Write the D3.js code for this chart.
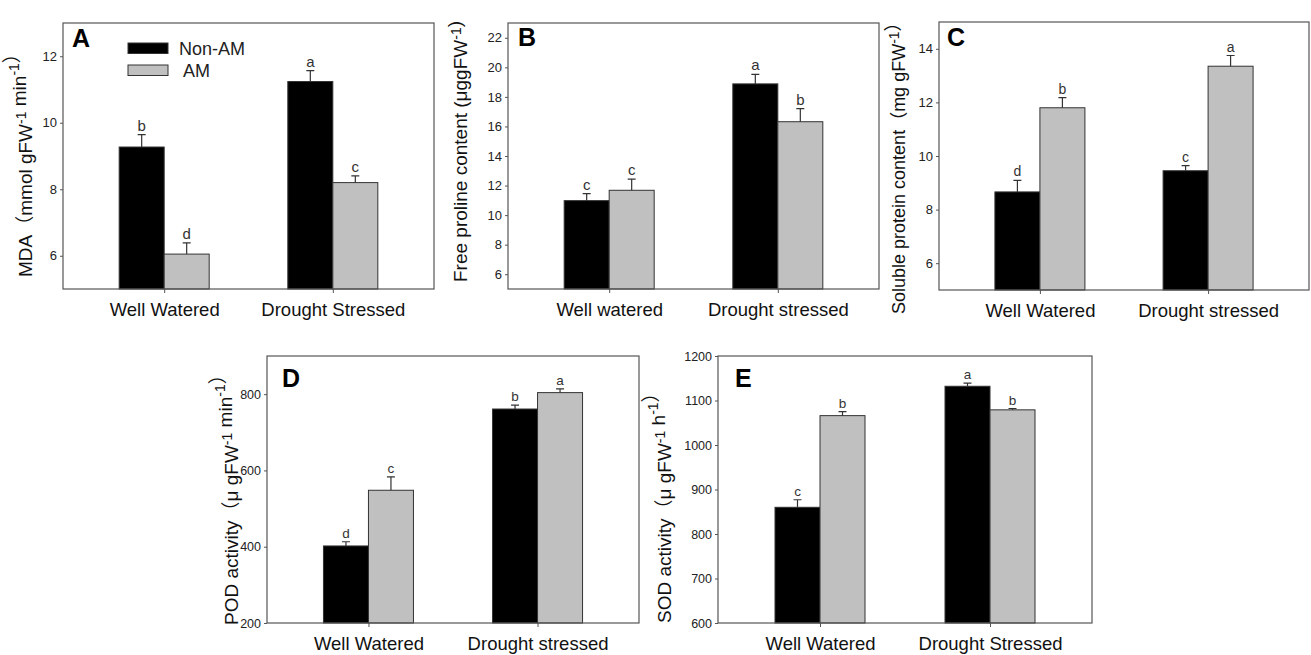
<!DOCTYPE html>
<html lang="en">
<head>
<meta charset="UTF-8">
<title>AM vs Non-AM under drought</title>
<script src="https://d3js.org/d3.v7.min.js"></script>
<style>
    body { margin: 0; background: #fff; }
    svg text { font-family: Arial, "Liberation Sans", "Noto Sans CJK SC", sans-serif; }
    .frame { fill: none; stroke: #555; stroke-width: 1.2px; }
    .tick line { stroke: #555; }
    .ytick text { fill: #222; }
    .xtick text { fill: #111; font-size: 18.5px; }
    .ylab { fill: #111; }
    .plabel { font-weight: bold; font-size: 25px; fill: #000; }
    .sig { fill: #333; }
</style>
</head>
<body>
<div id="chart"></div>
<script>
    // series
    var series = ["Non-AM", "AM"];
    var seriesColor = ["#000000", "#c0c0c0"];

    // A - MDA
    var mdaGroups = ["Well Watered", "Drought Stressed"];
    var mdaNonAM = [9.27, 11.24];
    var mdaAM = [6.05, 8.2];
    var mdaErrNonAM = [0.37, 0.33];
    var mdaErrAM = [0.34, 0.2];
    var mdaSigNonAM = ["b", "a"];
    var mdaSigAM = ["d", "c"];
    var mdaTicks = [6, 8, 10, 12];

    // B - free proline
    var proGroups = ["Well watered", "Drought stressed"];
    var proNonAM = [10.98, 18.88];
    var proAM = [11.68, 16.32];
    var proErrNonAM = [0.47, 0.65];
    var proErrAM = [0.75, 0.88];
    var proSigNonAM = ["c", "a"];
    var proSigAM = ["c", "b"];
    var proTicks = [6, 8, 10, 12, 14, 16, 18, 20, 22];

    // C - soluble protein
    var solGroups = ["Well Watered", "Drought stressed"];
    var solNonAM = [8.66, 9.45];
    var solAM = [11.8, 13.35];
    var solErrNonAM = [0.43, 0.19];
    var solErrAM = [0.38, 0.4];
    var solSigNonAM = ["d", "c"];
    var solSigAM = ["b", "a"];
    var solTicks = [6, 8, 10, 12, 14];

    // D - POD
    var podGroups = ["Well Watered", "Drought stressed"];
    var podNonAM = [402, 761];
    var podAM = [548, 804];
    var podErrNonAM = [11, 10];
    var podErrAM = [35, 10];
    var podSigNonAM = ["d", "b"];
    var podSigAM = ["c", "a"];
    var podTicks = [200, 400, 600, 800];

    // E - SOD
    var sodGroups = ["Well Watered", "Drought Stressed"];
    var sodNonAM = [860, 1132];
    var sodAM = [1066, 1079];
    var sodErrNonAM = [17, 7];
    var sodErrAM = [9, 3];
    var sodSigNonAM = ["c", "a"];
    var sodSigAM = ["b", "b"];
    var sodTicks = [600, 700, 800, 900, 1000, 1100, 1200];

    var svg = d3.select("#chart").append("svg")
        .attr("width", 1311)
        .attr("height", 655);

    var barW = 45;

    function drawPanel(p) {
        var g = svg.append("g").attr("transform", "translate(" + p.x + "," + p.y + ")");
        var y = d3.scaleLinear().domain(p.domain).range([p.h, 0]);
        var x = d3.scalePoint().domain(p.groups).range([0, p.w]).padding(0.6);

        var rows = [];
        [p.nonAM, p.am].forEach((vals, i) => {
            vals.forEach((v, j) => {
                rows.push({s: i, group: p.groups[j], value: v, err: [p.errNonAM, p.errAM][i][j], sig: [p.sigNonAM, p.sigAM][i][j]});
            });
        });

        var bx = d => x(d.group) - barW + d.s * barW;

        g.selectAll("rect.bar")
            .data(rows)
            .enter().append("rect")
                .attr("class", "bar")
                .attr("x", bx)
                .attr("y", d => y(d.value))
                .attr("width", barW)
                .attr("height", d => p.h - y(d.value))
                .attr("fill", d => seriesColor[d.s])
                .attr("stroke", "#333")
                .attr("stroke-width", 1);

        // error bars (upper only)
        g.selectAll("path.err")
            .data(rows)
            .enter().append("path")
                .attr("class", "err")
                .attr("fill", "none")
                .attr("stroke", "#333")
                .attr("stroke-width", 1.2)
                .attr("d", d => {
                    var cx = bx(d) + barW / 2;
                    var y0 = y(d.value), y1 = y(d.value + d.err);
                    return "M" + cx + "," + y0 + "V" + y1 + "M" + (cx - 4) + "," + y1 + "H" + (cx + 4);
                });

        g.selectAll("text.sig")
            .data(rows)
            .enter().append("text")
                .attr("class", "sig")
                .attr("x", d => bx(d) + barW / 2)
                .attr("y", d => y(d.value + d.err) - 4)
                .attr("text-anchor", "middle")
                .style("font-size", p.sigSize + "px")
                .text(d => d.sig);

        g.append("rect")
            .attr("class", "frame")
            .attr("width", p.w)
            .attr("height", p.h);

        var ya = g.append("g")
            .attr("class", "ytick")
            .call(d3.axisLeft(y).tickValues(p.ticks).tickFormat(d3.format("d")).tickSize(3).tickPadding(3));
        ya.select(".domain").remove();
        ya.selectAll("text").style("font-size", p.tickSize + "px");

        var xa = g.append("g")
            .attr("class", "xtick")
            .attr("transform", "translate(0," + p.h + ")")
            .call(d3.axisBottom(x).tickSize(4));
        xa.select(".domain").remove();
        xa.selectAll("text").attr("y", 27).attr("dy", null);

        g.append("text")
            .attr("class", "plabel")
            .attr("x", p.letterX)
            .attr("y", p.letterY)
            .text(p.letter);

        // y axis title with superscripts
        var t = g.append("text")
            .attr("class", "ylab")
            .style("font-size", (p.labSize || 19) + "px")
            .attr("transform", "translate(" + p.labX + "," + p.labY + ") rotate(-90)")
            .attr("x", 0)
            .attr("y", 0);
        p.label.forEach(part => {
            if (part.sup) {
                t.append("tspan").attr("dy", "-0.45em").style("font-size", "14px").text(part.sup);
                t.append("tspan").attr("dy", "0.45em").text("");
            } else {
                t.append("tspan").text(part.t);
            }
        });
        return g;
    }

    var gA = drawPanel({
        x: 63, y: 23, w: 371, h: 266, domain: [5, 13], ticks: mdaTicks,
        groups: mdaGroups, nonAM: mdaNonAM, am: mdaAM, errNonAM: mdaErrNonAM, errAM: mdaErrAM,
        sigNonAM: mdaSigNonAM, sigAM: mdaSigAM, sigSize: 15, tickSize: 13,
        letter: "A", letterX: 9, letterY: 24,
        labX: 32 - 63, labY: 277 - 23,
        label: [{t: "MDA（mmol gFW"}, {sup: "-1"}, {t: " min"}, {sup: "-1"}, {t: "）"}]
    });

    // legend (panel A only)
    var leg = gA.append("g");
    series.forEach((s, i) => {
        leg.append("rect")
            .attr("x", 65)
            .attr("y", 20 + i * 22)
            .attr("width", 40)
            .attr("height", 10.5)
            .attr("fill", seriesColor[i])
            .attr("stroke", "#333");
        leg.append("text")
            .attr("x", i === 0 ? 116 : 120)
            .attr("y", 25.5 + i * 22)
            .attr("dy", "0.35em")
            .style("font-size", "18px")
            .attr("fill", "#222")
            .text(s);
    });

    drawPanel({
        x: 508, y: 23, w: 371, h: 266, domain: [5, 23], ticks: proTicks,
        groups: proGroups, nonAM: proNonAM, am: proAM, errNonAM: proErrNonAM, errAM: proErrAM,
        sigNonAM: proSigNonAM, sigAM: proSigAM, sigSize: 15, tickSize: 13,
        letter: "B", letterX: 10, letterY: 23,
        labX: 467 - 508, labY: 282 - 23,
        label: [{t: "Free proline content (μggFW"}, {sup: "-1"}, {t: ")"}]
    });

    drawPanel({
        x: 939, y: 22, w: 370, h: 268, domain: [5, 15], ticks: solTicks,
        groups: solGroups, nonAM: solNonAM, am: solAM, errNonAM: solErrNonAM, errAM: solErrAM,
        sigNonAM: solSigNonAM, sigAM: solSigAM, sigSize: 14, tickSize: 13,
        letter: "C", letterX: 8, letterY: 24,
        labX: 905 - 939, labY: 314 - 22, labSize: 18,
        label: [{t: "Soluble protein content（mg gFW"}, {sup: "-1"}, {t: "）"}]
    });

    drawPanel({
        x: 267, y: 356, w: 372, h: 267, domain: [200, 900], ticks: podTicks,
        groups: podGroups, nonAM: podNonAM, am: podAM, errNonAM: podErrNonAM, errAM: podErrAM,
        sigNonAM: podSigNonAM, sigAM: podSigAM, sigSize: 13.5, tickSize: 12.5,
        letter: "D", letterX: 15, letterY: 31,
        labX: 238 - 267, labY: 625 - 356,
        label: [{t: "POD activity（μ gFW"}, {sup: "-1"}, {t: " min"}, {sup: "-1"}, {t: "）"}]
    });

    drawPanel({
        x: 718, y: 356, w: 374, h: 267, domain: [600, 1200], ticks: sodTicks,
        groups: sodGroups, nonAM: sodNonAM, am: sodAM, errNonAM: sodErrNonAM, errAM: sodErrAM,
        sigNonAM: sodSigNonAM, sigAM: sodSigAM, sigSize: 13.5, tickSize: 12.5,
        letter: "E", letterX: 17, letterY: 31,
        labX: 671 - 718, labY: 623 - 356,
        label: [{t: "SOD activity（μ gFW"}, {sup: "-1"}, {t: " h"}, {sup: "-1"}, {t: "）"}]
    });
</script>
</body>
</html>
